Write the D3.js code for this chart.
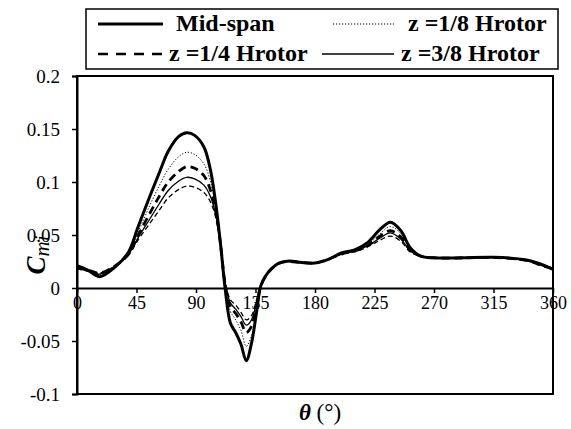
<!DOCTYPE html>
<html>
<head>
<meta charset="utf-8">
<script src="https://cdn.jsdelivr.net/npm/d3@7"></script>
<style>
  body { margin: 0; background: #fff; }
</style>
</head>
<body>
<div id="chart"></div>
<script>
// azimuth angle (deg)
const theta = [0, 8, 17, 29, 39, 46, 54, 62, 69, 77, 83, 89, 96, 101, 105, 108.5, 112, 116, 120, 124, 128, 132, 136, 139, 143, 147, 152, 160, 170, 180, 190, 200, 210, 220, 229, 237, 245, 252, 260, 270, 290, 315, 340, 352, 360];

const midSpan = [0.021, 0.017, 0.0107, 0.020, 0.034, 0.057, 0.083, 0.108, 0.129, 0.143, 0.1465, 0.144, 0.133, 0.111, 0.079, 0.042, 0.000, -0.033, -0.042, -0.053, -0.0686, -0.052, -0.021, 0.002, 0.012, 0.018, 0.023, 0.0255, 0.024, 0.0235, 0.027, 0.033, 0.036, 0.043, 0.055, 0.062, 0.054, 0.038, 0.030, 0.0285, 0.0285, 0.029, 0.0265, 0.022, 0.0176];
const z18 = [0.020, 0.018, 0.013, 0.021, 0.033, 0.052, 0.075, 0.096, 0.112, 0.124, 0.128, 0.126, 0.117, 0.100, 0.075, 0.042, 0.003, -0.022, -0.030, -0.040, -0.055, -0.045, -0.018, 0.002, 0.012, 0.018, 0.023, 0.025, 0.024, 0.0235, 0.027, 0.032, 0.035, 0.041, 0.051, 0.058, 0.051, 0.037, 0.030, 0.0285, 0.0283, 0.0288, 0.026, 0.021, 0.017];
const z14 = [0.019, 0.017, 0.014, 0.021, 0.032, 0.049, 0.068, 0.086, 0.100, 0.110, 0.1145, 0.113, 0.106, 0.092, 0.072, 0.042, 0.004, -0.018, -0.024, -0.032, -0.042, -0.036, -0.015, 0.002, 0.012, 0.018, 0.023, 0.025, 0.024, 0.0235, 0.027, 0.032, 0.035, 0.040, 0.049, 0.054, 0.048, 0.036, 0.030, 0.0285, 0.0283, 0.0288, 0.026, 0.021, 0.018];
const z38 = [0.020, 0.016, 0.013, 0.021, 0.032, 0.047, 0.063, 0.079, 0.092, 0.101, 0.1044, 0.103, 0.097, 0.086, 0.069, 0.041, 0.005, -0.014, -0.020, -0.027, -0.035, -0.030, -0.012, 0.003, 0.012, 0.018, 0.023, 0.025, 0.024, 0.0235, 0.027, 0.032, 0.035, 0.040, 0.047, 0.052, 0.046, 0.035, 0.030, 0.0285, 0.0283, 0.0288, 0.026, 0.021, 0.018];
const zExtra = [0.018, 0.016, 0.014, 0.021, 0.031, 0.045, 0.059, 0.073, 0.085, 0.093, 0.0962, 0.095, 0.090, 0.081, 0.066, 0.040, 0.006, -0.011, -0.016, -0.023, -0.030, -0.026, -0.010, 0.003, 0.012, 0.018, 0.023, 0.025, 0.024, 0.0235, 0.027, 0.032, 0.034, 0.039, 0.045, 0.049, 0.044, 0.034, 0.030, 0.0285, 0.0282, 0.0287, 0.026, 0.021, 0.018];

const xTicks = [0, 45, 90, 135, 180, 225, 270, 315, 360];
const yTicks = [-0.1, -0.05, 0, 0.05, 0.1, 0.15, 0.2];
const yTickLabels = ['-0.1', '-0.05', '0', '0.05', '0.1', '0.15', '0.2'];

const series = [
  {name: 'Mid-span', values: midSpan, w: 3, dash: null},
  {name: 'z =1/8 Hrotor', values: z18, w: 1, dash: '1.2,1.8'},
  {name: 'z =1/4 Hrotor', values: z14, w: 2.8, dash: '8,5'},
  {name: 'z =3/8 Hrotor', values: z38, w: 1.3, dash: null},
  {name: null, values: zExtra, w: 1.3, dash: '5,3'}
];

const FONT = '"Liberation Serif"';
const width = 571, height = 429;
const margin = {t: 76, r: 18, b: 35, l: 77};

const svg = d3.select('#chart').append('svg')
  .attr('width', width)
  .attr('height', height)
  .style('display', 'block')
  .style('font-family', FONT);

const x = d3.scaleLinear().domain([0, 360]).range([margin.l, width - margin.r]);
const y = d3.scaleLinear().domain([-0.1, 0.2]).range([height - margin.b, margin.t]);

// plot frame
svg.append('rect')
  .attr('x', x(0)).attr('y', y(0.2))
  .attr('width', x(360) - x(0)).attr('height', y(-0.1) - y(0.2))
  .attr('fill', 'none').attr('stroke', '#000').attr('stroke-width', 2);

// y axis
const yAxis = svg.append('g')
  .attr('transform', `translate(${x(0)},0)`)
  .call(d3.axisLeft(y).tickValues(yTicks).tickSize(5).tickPadding(12)
    .tickFormat((d, i) => yTickLabels[i]));
yAxis.select('.domain').attr('stroke-width', 2);
yAxis.selectAll('.tick line').attr('stroke-width', 1.5);
yAxis.selectAll('text').attr('font-size', 19).attr('fill', '#000').style('font-family', FONT);

// x axis on zero line
const xAxis = svg.append('g')
  .attr('transform', `translate(0,${y(0)})`)
  .call(d3.axisBottom(x).tickValues(xTicks).tickSize(5).tickPadding(3).tickSizeOuter(0));
xAxis.select('.domain').attr('stroke-width', 2);
xAxis.selectAll('.tick line').attr('stroke-width', 1.5);
xAxis.selectAll('text').attr('font-size', 18).attr('fill', '#000').style('font-family', FONT);

// curves
const line = d3.line()
  .x((d, i) => x(theta[i]))
  .y(d => y(d))
  .curve(d3.curveCatmullRom.alpha(0.5));

svg.append('g').selectAll('path')
  .data(series.slice().reverse())
  .join('path')
  .attr('d', d => line(d.values))
  .attr('fill', 'none')
  .attr('stroke', '#000')
  .attr('stroke-width', d => d.w)
  .attr('stroke-dasharray', d => d.dash);

// axis titles
const xt = svg.append('text')
  .attr('x', 320).attr('y', 420)
  .attr('text-anchor', 'middle')
  .attr('font-size', 23)
  .style('font-family', FONT);
xt.append('tspan').attr('font-weight', 'bold').attr('font-style', 'italic').text('θ');
xt.append('tspan').text(' (°)');

const yt = svg.append('text')
  .attr('transform', 'translate(45,255) rotate(-90)')
  .attr('text-anchor', 'middle')
  .attr('font-size', 27)
  .style('font-family', FONT);
yt.append('tspan').attr('font-weight', 'bold').attr('font-style', 'italic').text('C');
yt.append('tspan').attr('font-style', 'italic').attr('font-size', 21).attr('dy', 4).text('mi');

// legend
const lg = svg.append('g');
lg.append('rect')
  .attr('x', 86).attr('y', 9).attr('width', 472).attr('height', 60)
  .attr('fill', '#fff').attr('stroke', '#000').attr('stroke-width', 1.5);

const legendItems = [
  {s: series[0], lx: 98, lw: 65, ly: 24, tx: 176},
  {s: series[1], lx: 333, lw: 61, ly: 24, tx: 408},
  {s: series[2], lx: 98, lw: 65, ly: 54, tx: 169},
  {s: series[3], lx: 322, lw: 72, ly: 54, tx: 401}
];
const items = lg.selectAll('g.item').data(legendItems).join('g').attr('class', 'item');
items.append('line')
  .attr('x1', d => d.lx).attr('x2', d => d.lx + d.lw)
  .attr('y1', d => d.ly).attr('y2', d => d.ly)
  .attr('stroke', '#000')
  .attr('stroke-width', d => d.s.dash === '8,5' ? 2.4 : d.s.w)
  .attr('stroke-dasharray', d => d.s.dash === '8,5' ? '10,8' : d.s.dash);
items.append('text')
  .attr('x', d => d.tx).attr('y', d => d.ly + 7)
  .attr('font-size', 24).attr('font-weight', 'bold')
  .style('font-family', FONT)
  .text(d => d.s.name);
</script>
</body>
</html>
